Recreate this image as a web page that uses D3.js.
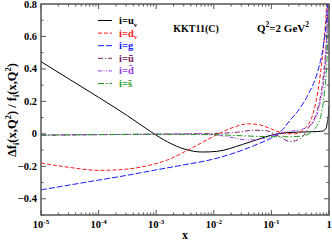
<!DOCTYPE html>
<html><head><meta charset="utf-8">
<script src="https://cdn.jsdelivr.net/npm/d3@7"></script>
<style>html,body{margin:0;padding:0;background:#fff;}svg{display:block;}</style>
</head><body>
<svg id="c" width="332" height="241"></svg>
<script>
// ---- data (log10 x positions and values) ----
const uvLogX = [-5,-4.5,-4,-3.5,-3.1,-2.8,-2.5,-2.2,-1.95,-1.5,-1.2,-1,-0.7,-0.4,-0.2,-0.1,-0.05,-0.03,-0.01,-0.002];
const uvVal  = [0.445,0.335,0.225,0.112,0.015,-0.05,-0.095,-0.112,-0.108,-0.065,-0.03,-0.008,0.008,0.012,0.014,0.018,0.035,0.07,0.12,0.17];
const dvLogX = [-5,-4.5,-4,-3.6,-3.2,-2.8,-2.45,-2.0,-1.7,-1.4,-1.2,-1.0,-0.8,-0.6,-0.45,-0.3,-0.15,-0.06,-0.03];
const dvVal  = [-0.18,-0.207,-0.225,-0.22,-0.2,-0.16,-0.1,-0.015,0.035,0.062,0.055,0.03,0.005,0.0,0.025,0.1,0.37,0.69,0.86];
const gLogX  = [-5,-4.5,-4,-3.5,-3,-2.5,-2,-1.5,-1.2,-1,-0.84,-0.67,-0.5,-0.35,-0.2,-0.1,-0.05,-0.02];
const gVal   = [-0.345,-0.315,-0.285,-0.255,-0.222,-0.19,-0.155,-0.1,-0.057,-0.025,0.014,0.086,0.16,0.25,0.38,0.54,0.68,0.82];
const ubLogX = [-5,-4,-3,-2,-1.6,-1.3,-1.1,-0.9,-0.67,-0.5,-0.35,-0.2,-0.1,-0.05,-0.02];
const ubVal  = [-0.008,-0.005,-0.002,0.002,0.01,0.022,0.02,-0.01,-0.047,-0.03,0.04,0.15,0.35,0.55,0.78];
const dbLogX = [-5,-3,-2.2,-1.8,-1.4,-1.1,-0.9,-0.7,-0.5,-0.3,-0.15,-0.07,-0.03,-0.01];
const dbVal  = [-0.008,-0.002,0.0,-0.015,-0.038,-0.025,0.0,0.015,0.025,0.06,0.2,0.4,0.65,0.85];
const sLogX  = [-5,-3,-2,-1.5,-1.2,-0.8,-0.5,-0.35,-0.25,-0.15,-0.08,-0.04,-0.01];
const sVal   = [-0.008,-0.003,-0.005,-0.012,-0.016,-0.018,-0.015,0.0,0.03,0.1,0.25,0.42,0.7];
const yTicks = [-0.4,-0.2,0,0.2,0.4,0.6,0.8];
const xTicks = [1e-5,1e-4,1e-3,1e-2,1e-1,1];
const xTickExp = ["-5","-4","-3","-2","-1",""];

const series = [
  {lx:uvLogX, v:uvVal, color:"#000000", dash:null, lab:"u", sub:"v", bar:false},
  {lx:dvLogX, v:dvVal, color:"#ff1a1a", dash:"4,2", lab:"d", sub:"v", bar:false},
  {lx:gLogX,  v:gVal,  color:"#1a1aff", dash:"6,2", lab:"g", sub:null, bar:false},
  {lx:ubLogX, v:ubVal, color:"#7a2060", dash:"5,2,1.2,2", lab:"u", sub:null, bar:true},
  {lx:dbLogX, v:dbVal, color:"#9b3de6", dash:"4,1.5,1,1.5,1,1.5", lab:"d", sub:null, bar:true},
  {lx:sLogX,  v:sVal,  color:"#1f9a1f", dash:"6,2,1.5,2", lab:"s", sub:null, bar:true}
];

const L=41, R=329, T=4, B=215;
const x = d3.scaleLog().domain([1e-5,1]).range([L,R]);
const y = d3.scaleLinear().domain([-0.5,0.8]).range([B,T]);
const svg = d3.select("#c");
const font = "'Liberation Serif','Times New Roman',serif";

svg.append("defs").append("clipPath").attr("id","clip")
  .append("rect").attr("x",L).attr("y",T).attr("width",R-L).attr("height",B-T);

const line = d3.line().x(d=>x(Math.pow(10,d[0]))).y(d=>y(d[1])).curve(d3.curveMonotoneX);
const g = svg.append("g").attr("clip-path","url(#clip)");
series.forEach(s=>{
  g.append("path").datum(s.lx.map((lx,i)=>[lx,s.v[i]]))
    .attr("d",line).attr("fill","none").attr("stroke",s.color)
    .attr("stroke-width",1).attr("stroke-dasharray",s.dash);
});

// axes ticks (inward, mirrored)
const tk = svg.append("g").attr("stroke","#555").attr("stroke-width",1);
const minorX = [];
for(let e=-5;e<0;e++) for(let m=2;m<=9;m++) minorX.push(m*Math.pow(10,e));
xTicks.forEach(v=>{
  tk.append("line").attr("x1",x(v)).attr("x2",x(v)).attr("y1",B).attr("y2",B-5);
  tk.append("line").attr("x1",x(v)).attr("x2",x(v)).attr("y1",T).attr("y2",T+5);
});
minorX.forEach(v=>{
  tk.append("line").attr("x1",x(v)).attr("x2",x(v)).attr("y1",B).attr("y2",B-2.5);
  tk.append("line").attr("x1",x(v)).attr("x2",x(v)).attr("y1",T).attr("y2",T+2.5);
});
d3.range(-5,8).map(i=>i/10).forEach(v=>{
  const major = Math.abs(Math.round(v*10))%2===0;
  const len = major?5:2.5;
  tk.append("line").attr("x1",L).attr("x2",L+len).attr("y1",y(v)).attr("y2",y(v));
  tk.append("line").attr("x1",R).attr("x2",R-len).attr("y1",y(v)).attr("y2",y(v));
});
svg.append("rect").attr("x",L).attr("y",T).attr("width",R-L).attr("height",B-T)
  .attr("fill","none").attr("stroke","#555").attr("stroke-width",1.5);

// tick labels
yTicks.forEach(v=>{
  svg.append("text").attr("x",37).attr("y",y(v)+3.5).attr("text-anchor","end")
    .attr("font-family",font).attr("font-weight","bold").attr("font-size",10.5)
    .text(v===0?"0":d3.format(".1f")(v));
});
xTicks.forEach((v,i)=>{
  const t = svg.append("text").attr("x",x(v)).attr("y",228).attr("text-anchor","middle")
    .attr("font-family",font).attr("font-weight","bold").attr("font-size",10.5);
  if(xTickExp[i]===""){ t.text("1"); }
  else {
    t.append("tspan").text("10");
    t.append("tspan").attr("dy",-4.5).attr("font-size",7).text(xTickExp[i]);
  }
});

// axis titles
svg.append("text").attr("x",185).attr("y",239).attr("text-anchor","middle")
  .attr("font-family",font).attr("font-weight","bold").attr("font-size",12).text("x");
const yl = svg.append("text").attr("transform","translate(16,110) rotate(-90)").attr("text-anchor","middle")
  .attr("font-family",font).attr("font-weight","bold").attr("font-size",12.5);
yl.append("tspan").text("Δf");
yl.append("tspan").attr("dy",3).attr("font-size",8.5).text("i");
yl.append("tspan").attr("dy",-3).text("(x,Q");
yl.append("tspan").attr("dy",-5).attr("font-size",8.5).text("2");
yl.append("tspan").attr("dy",5).text(") / f");
yl.append("tspan").attr("dy",3).attr("font-size",8.5).text("i");
yl.append("tspan").attr("dy",-3).text("(x,Q");
yl.append("tspan").attr("dy",-5).attr("font-size",8.5).text("2");
yl.append("tspan").attr("dy",5).text(")");

// legend
series.forEach((s,i)=>{
  const yy = 20.5 + i*12.6;
  svg.append("line").attr("x1",98).attr("x2",112).attr("y1",yy).attr("y2",yy)
    .attr("stroke",s.color).attr("stroke-width",1).attr("stroke-dasharray",s.dash);
  const t = svg.append("text").attr("x",119).attr("y",yy+3.5)
    .attr("font-family",font).attr("font-weight","bold").attr("font-size",10.5).attr("fill",s.color);
  t.append("tspan").text("i=");
  t.append("tspan").text(s.bar ? s.lab+"\u0304" : s.lab);
  if(s.sub) t.append("tspan").attr("dy",2.5).attr("font-size",7).text(s.sub);
});

svg.append("text").attr("x",196).attr("y",32).attr("text-anchor","middle")
  .attr("font-family",font).attr("font-weight","bold").attr("font-size",10).text("KKT11(C)");
const q = svg.append("text").attr("x",257).attr("y",32)
  .attr("font-family",font).attr("font-weight","bold").attr("font-size",11);
q.append("tspan").text("Q");
q.append("tspan").attr("dy",-5).attr("font-size",7.5).text("2");
q.append("tspan").attr("dy",5).text("=2 GeV");
q.append("tspan").attr("dy",-5).attr("font-size",7.5).text("2");
</script>
</body></html>
